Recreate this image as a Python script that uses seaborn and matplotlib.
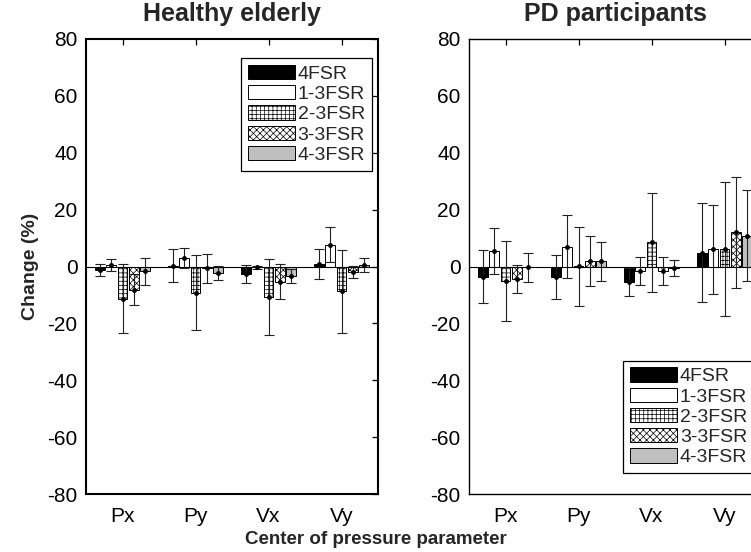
import numpy as np
import pandas as pd
import matplotlib
matplotlib.use('Agg')
import matplotlib.pyplot as plt
import seaborn as sns

# Data (mean change % and error bar half-length)
params = ['Px', 'Py', 'Vx', 'Vy']
conds = ['4FSR', '1-3FSR', '2-3FSR', '3-3FSR', '4-3FSR']

healthy_4fsr = [-1.2, 0.3, -2.6, 0.8]
healthy_1_3 = [0.4, 3.1, -0.3, 7.7]
healthy_2_3 = [-11.3, -9.2, -10.7, -8.7]
healthy_3_3 = [-8.1, -0.6, -5.3, -2.0]
healthy_4_3 = [-1.7, -2.3, -3.3, 0.5]

healthy_err_4fsr = [2.0, 5.9, 3.1, 5.2]
healthy_err_1_3 = [2.1, 3.5, 0.5, 6.2]
healthy_err_2_3 = [12.2, 13.3, 13.4, 14.6]
healthy_err_3_3 = [5.3, 5.1, 6.3, 2.1]
healthy_err_4_3 = [4.7, 2.4, 2.4, 2.4]

pd_4fsr = [-3.6, -3.7, -5.3, 4.9]
pd_1_3 = [5.4, 7.0, -1.5, 6.1]
pd_2_3 = [-5.1, 0.1, 8.6, 6.1]
pd_3_3 = [-4.4, 2.0, -1.6, 12.0]
pd_4_3 = [-0.3, 1.8, -0.5, 10.8]

pd_err_4fsr = [9.4, 7.6, 4.9, 17.3]
pd_err_1_3 = [8.1, 11.0, 4.9, 15.6]
pd_err_2_3 = [14.2, 13.9, 17.4, 23.5]
pd_err_3_3 = [5.0, 8.9, 4.9, 19.4]
pd_err_4_3 = [5.2, 6.8, 2.7, 16.0]

yticks = [-80, -60, -40, -20, 0, 20, 40, 60, 80]

colors = ['black', 'white', 'white', 'white', '#bfbfbf']
hatches = ['', '', '++++', 'xxxxx', '']

sns.set_theme(style='white')
plt.rcParams['font.family'] = ['Liberation Sans', 'DejaVu Sans']
plt.rcParams['axes.unicode_minus'] = False
plt.rcParams['hatch.linewidth'] = 0.5
plt.rcParams['xtick.direction'] = 'in'
plt.rcParams['ytick.direction'] = 'in'


def long_table(means, errs):
    rows = []
    for c, m, e in zip(conds, means, errs):
        for p, mv, ev in zip(params, m, e):
            rows.append({'param': p, 'cond': c, 'mean': mv, 'err': ev})
    return pd.DataFrame(rows)


healthy = long_table([healthy_4fsr, healthy_1_3, healthy_2_3, healthy_3_3, healthy_4_3],
                     [healthy_err_4fsr, healthy_err_1_3, healthy_err_2_3,
                      healthy_err_3_3, healthy_err_4_3])
pdp = long_table([pd_4fsr, pd_1_3, pd_2_3, pd_3_3, pd_4_3],
                 [pd_err_4fsr, pd_err_1_3, pd_err_2_3, pd_err_3_3, pd_err_4_3])

fig = plt.figure(figsize=(7.51, 5.52), dpi=100)
ax1 = fig.add_axes([86 / 751, 58 / 552, 292 / 751, 455 / 552])
ax2 = fig.add_axes([469 / 751, 58 / 552, 292 / 751, 455 / 552])


def draw_panel(ax, df, title, legend_loc, legend_anchor, spine_lw):
    sns.barplot(data=df, x='param', y='mean', hue='cond', order=params,
                hue_order=conds, palette=colors, errorbar=None, width=0.77,
                gap=0.12, edgecolor='black', linewidth=0.7, ax=ax, zorder=2)
    bar_conts = list(ax.containers)
    handles = []
    for i, cont in enumerate(bar_conts):
        sub = df[df['cond'] == conds[i]].set_index('param').loc[params]
        xs = []
        for bar in cont:
            bar.set_hatch(hatches[i])
            xs.append(bar.get_x() + bar.get_width() / 2)
        ax.errorbar(xs, sub['mean'].values, yerr=sub['err'].values, fmt='o',
                    ms=2.5, color='black', ecolor='#222222', elinewidth=0.8,
                    capsize=3.3, capthick=0.8, zorder=3)
        handles.append(cont[0])
    ax.axhline(0, color='black', lw=0.8, zorder=2.5)
    ax.set_xlim(-0.5, 3.5)
    ax.set_ylim(-80, 80)
    ax.set_yticks(yticks)
    ax.set_xlabel('')
    ax.set_ylabel('')
    ax.tick_params(axis='both', labelsize=15, length=4.5, width=0.9,
                   top=True, right=True, colors='black')
    ax.tick_params(axis='x', pad=9)
    ax.tick_params(axis='y', pad=6)
    ax.set_title(title, fontsize=18, fontweight='bold', pad=13)
    for s in ax.spines.values():
        s.set_color('black')
        s.set_linewidth(spine_lw)
    if ax.get_legend() is not None:
        ax.get_legend().remove()
    leg = ax.legend(handles, conds, loc=legend_loc, bbox_to_anchor=legend_anchor,
                    borderaxespad=0, fontsize=14, handlelength=2.4,
                    handleheight=0.75, handletextpad=0.15, labelspacing=0.12,
                    borderpad=0.35, frameon=True, fancybox=False,
                    framealpha=1, edgecolor='black')
    leg.get_frame().set_linewidth(0.9)


draw_panel(ax1, healthy, 'Healthy elderly', 'upper right', (0.979, 0.958), 1.5)
draw_panel(ax2, pdp, 'PD participants', 'lower right', (0.976, 0.046), 1.0)

ax1.set_ylabel('Change (%)', fontsize=14, fontweight='bold')
ax1.yaxis.set_label_coords(-0.16, 0.5)
fig.text(0.5, 0.022, 'Center of pressure parameter', ha='center', va='center',
         fontsize=13.5, fontweight='bold')

fig.savefig('out.png', dpi=100)
